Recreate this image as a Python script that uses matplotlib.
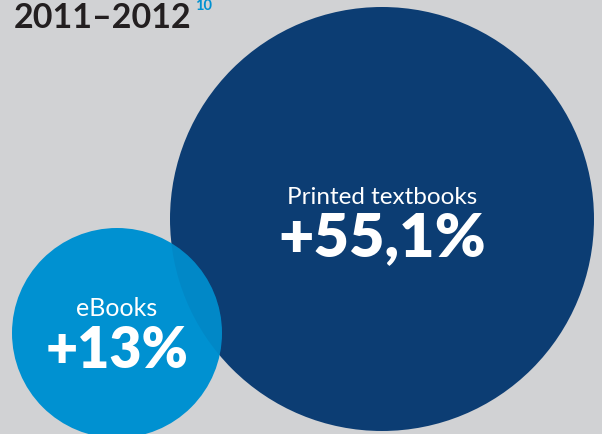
import matplotlib.pyplot as plt
from matplotlib.patches import Circle

# data
labels = ["Printed textbooks", "eBooks"]
values = ["+55,1%", "+13%"]
centers = [(382, 220), (117, 334)]
radii = [212, 105]
colors = ["#0c3d73", "#0091d1"]

bg = "#d1d2d4"

fig = plt.figure(figsize=(6.02, 4.35), dpi=100)
fig.patch.set_facecolor(bg)
ax = fig.add_axes([0, 0, 1, 1])
ax.set_facecolor(bg)
ax.set_xlim(0, 602)
ax.set_ylim(435, 0)
ax.set_aspect("equal")
ax.axis("off")

big = Circle(centers[0], radii[0], facecolor=colors[0], edgecolor="none")
small = Circle(centers[1], radii[1], facecolor=colors[1], edgecolor="none")
ax.add_patch(big)
ax.add_patch(small)
# faint dark tint where the two circles overlap
overlap = Circle(centers[0], radii[0], facecolor=colors[0], edgecolor="none", alpha=0.1)
ax.add_patch(overlap)
overlap.set_clip_path(small)

label_sizes = [17.5, 18]
value_sizes = [44, 40]
label_y = [204, 316]
value_y = [256, 368]
for i in range(2):
    cx = centers[i][0]
    ax.text(cx, label_y[i], labels[i], ha="center", va="baseline", color="white",
            fontsize=label_sizes[i], family="Lato")
    ax.text(cx, value_y[i], values[i], ha="center", va="baseline", color="white",
            fontsize=value_sizes[i], family="Lato", weight="heavy")

ax.text(14, 28, "2011–2012", ha="left", va="baseline", color="#231f20",
        fontsize=24.5, family="Lato", weight="bold")
ax.text(195, 10, "10", ha="left", va="baseline", color="#0091d1",
        fontsize=10.5, family="Lato", weight="bold")

fig.savefig("out.png", dpi=100, facecolor=bg)
